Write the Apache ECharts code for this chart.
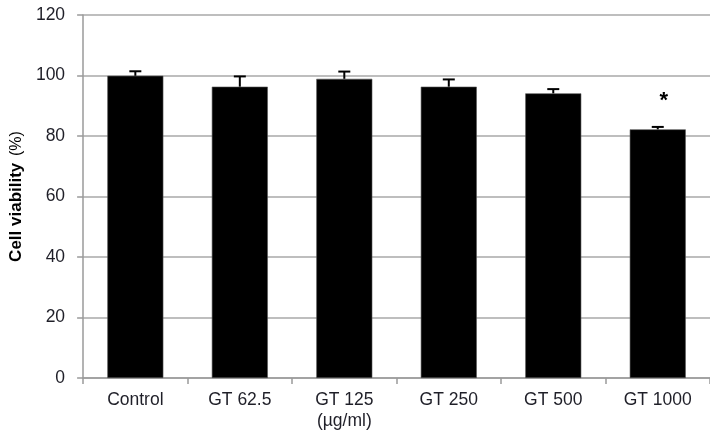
<!DOCTYPE html>
<html>
<head>
<meta charset="utf-8">
<script src="https://cdn.jsdelivr.net/npm/echarts@6/dist/echarts.min.js"></script>
<style>
  html, body { margin: 0; padding: 0; background: #fff; }
  #chart { width: 710px; height: 435px; }
</style>
</head>
<body>
<div id="chart"></div>
<script>
// Cell viability by treatment group (mean and standard deviation, %)
const categories = ['Control', 'GT 62.5', 'GT 125\n(µg/ml)', 'GT 250', 'GT 500', 'GT 1000'];
const viability = [99.9, 96.3, 98.9, 96.3, 94.1, 82.2];
const viabilitySd = [1.5, 3.4, 2.4, 2.4, 1.4, 0.8];
const significance = ['', '', '', '', '', '*'];
const yTicks = [0, 20, 40, 60, 80, 100, 120];

const chart = echarts.init(document.getElementById('chart'), null, { renderer: 'canvas' });

const errorData = viability.map((v, i) => [i, v, viabilitySd[i], significance[i]]);
const font = 'Arial, "Liberation Sans", sans-serif';

chart.setOption({
  animation: false,
  backgroundColor: '#ffffff',
  grid: { left: 82, right: -3, top: 15, bottom: 57, containLabel: false },
  xAxis: {
    type: 'category',
    data: categories,
    axisLine: { show: true, lineStyle: { color: '#9a9a9a', width: 1.5 } },
    axisTick: { show: true, length: 6, lineStyle: { color: '#9a9a9a', width: 1.5 } },
    axisLabel: {
      color: '#1f1f28', fontFamily: font,
      fontSize: 17.5, margin: 12, lineHeight: 21
    }
  },
  yAxis: {
    type: 'value',
    min: yTicks[0],
    max: yTicks[yTicks.length - 1],
    interval: 20,
    name: '{b|Cell viability}  {n|(%)}',
    nameLocation: 'middle',
    nameGap: 52,
    nameRotate: 90,
    nameTextStyle: {
      rich: {
        b: { fontSize: 17, fontWeight: 'bold', color: '#000', fontFamily: font },
        n: { fontSize: 16, color: '#000', fontFamily: font }
      }
    },
    axisLine: { show: true, lineStyle: { color: '#9a9a9a', width: 1.5 } },
    axisTick: { show: true, length: 6, lineStyle: { color: '#9a9a9a', width: 1.5 } },
    axisLabel: {
      color: '#1f1f28', fontFamily: font,
      fontSize: 17.5, margin: 18
    },
    splitLine: { show: true, lineStyle: { color: '#a8a8a8', width: 1.5 } }
  },
  series: [
    {
      type: 'bar',
      data: viability,
      barWidth: 56,
      itemStyle: { color: '#000', borderColor: '#555', borderWidth: 0.6 }
    },
    {
      type: 'custom',
      data: errorData,
      z: 10,
      renderItem: function (params, api) {
        const idx = api.value(0);
        const mean = api.value(1);
        const sd = api.value(2);
        const mark = errorData[params.dataIndex][3];
        const base = api.coord([idx, mean]);
        const top = api.coord([idx, mean + sd]);
        const half = 6;
        const children = [
          { type: 'line', shape: { x1: base[0], y1: base[1], x2: top[0], y2: top[1] },
            style: { stroke: '#000', lineWidth: 2 } },
          { type: 'line', shape: { x1: top[0] - half, y1: top[1], x2: top[0] + half, y2: top[1] },
            style: { stroke: '#000', lineWidth: 2 } }
        ];
        if (mark) {
          // significance marker, set a little right of the error bar
          children.push({
            type: 'text',
            style: {
              text: mark, x: top[0] + 6, y: top[1] - 26,
              align: 'center', verticalAlign: 'middle',
              fontSize: 22, fontWeight: 'bold', fill: '#000',
              fontFamily: font
            }
          });
        }
        return { type: 'group', children: children };
      }
    }
  ]
});
</script>
</body>
</html>
